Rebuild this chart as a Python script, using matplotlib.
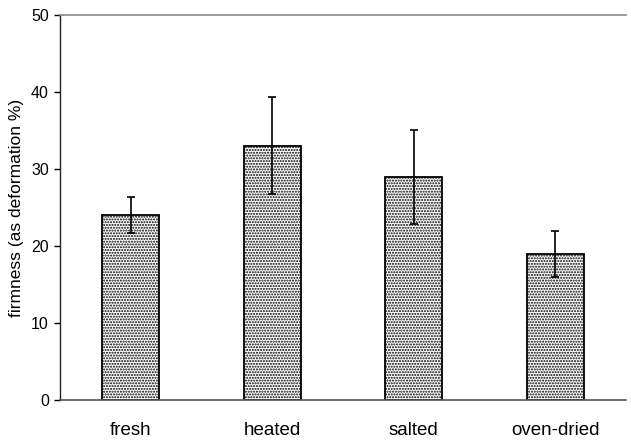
import matplotlib
matplotlib.use("Agg")
import matplotlib.pyplot as plt

categories = ["fresh", "heated", "salted", "oven-dried"]
values = [24, 33, 29, 19]
errors = [2.3, 6.3, 6.1, 3.0]
yticks = [0, 10, 20, 30, 40, 50]

plt.rcParams['font.family'] = ['Liberation Sans', 'DejaVu Sans']
plt.rcParams['hatch.linewidth'] = 1.0

fig = plt.figure(figsize=(6.31, 4.41), dpi=100)
ax = fig.add_axes([0.0951, 0.093, 0.897, 0.873])

x = range(len(categories))
ax.bar(x, values, width=0.4, color="white", edgecolor="black", hatch="......",
       linewidth=1.3, zorder=2)
ax.errorbar(x, values, yerr=errors, fmt="none", ecolor="black", elinewidth=1.2,
            capsize=3, capthick=1.2, zorder=3)

ax.set_xlim(-0.5, 3.5)
ax.set_ylim(0, 50)
ax.set_yticks(yticks)
ax.set_xticks(list(x))
ax.set_xticklabels(categories, fontsize=13.5)
ax.tick_params(axis="x", length=0, pad=16)
ax.tick_params(axis="y", length=4, width=1, labelsize=11.5, pad=4, direction="out")
ax.set_ylabel("firmness (as deformation %)", fontsize=12.5, labelpad=5)

ax.spines["right"].set_visible(False)
ax.spines["top"].set_color("#888888")
ax.spines["top"].set_linewidth(1.2)
ax.spines["bottom"].set_color("#555555")
ax.spines["bottom"].set_linewidth(1.2)
ax.spines["left"].set_color("#222222")
ax.spines["left"].set_linewidth(1.0)

fig.savefig("out.png", dpi=100)
